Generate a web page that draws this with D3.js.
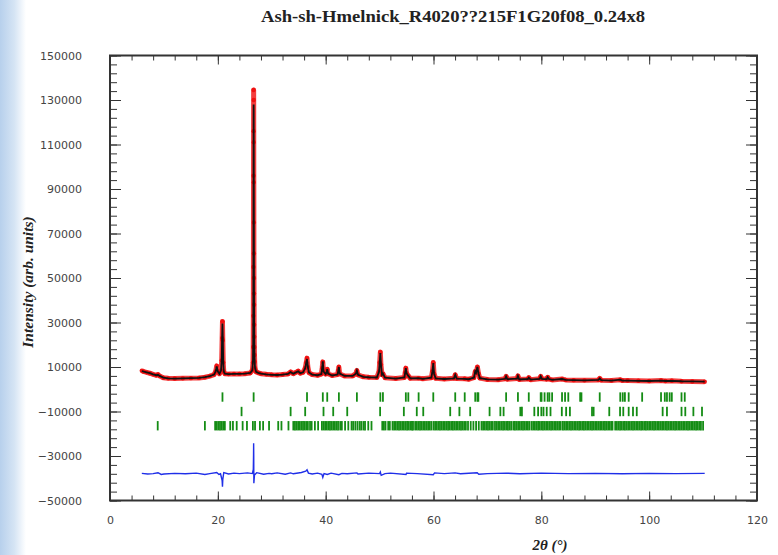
<!DOCTYPE html>
<html>
<head>
<meta charset="utf-8">
<title>Ash-sh-Hmelnick Rietveld plot</title>
<style type="text/css">
    html, body { margin: 0; padding: 0; background: #fff; }
    svg { display: block; }
    .tick text { font-family: "DejaVu Sans", sans-serif; font-size: 11px; fill: #444; }
    .tick line { stroke: #333; }
</style>
</head>
<body>
<div id="chart"></div>
<script src="https://cdnjs.cloudflare.com/ajax/libs/d3/7.8.5/d3.min.js"></script>
<script>

// [2theta, observed, calculated]
var profile = [
    [5.9, 8300, 8200], [6.3, 7900, 7900], [6.8, 7600, 7600], [7.4, 7200, 7200], [8.0, 6700, 6700],
    [8.6, 6300, 6300], [8.9, 6600, 6500], [9.2, 6000, 6000], [9.9, 5200, 5200], [10.8, 4900, 4900],
    [12.0, 4800, 4800], [13.5, 4900, 4900], [15.0, 5000, 5000], [16.5, 5100, 5100], [17.6, 5400, 5400],
    [18.5, 5900, 5900], [19.3, 6600, 6600], [19.6, 8000, 8000], [19.8, 10500, 10300], [20.0, 8000, 8000],
    [20.3, 7000, 7000], [20.6, 8500, 8500], [20.72, 13000, 13500], [20.8, 23000, 24000], [20.86, 30500, 29500],
    [20.92, 22000, 23500], [21.0, 12000, 12500], [21.1, 8000, 8000], [21.3, 7000, 7000], [22.0, 6800, 6800],
    [23.0, 6900, 6900], [24.0, 6900, 6900], [25.0, 7000, 7000], [26.0, 7300, 7300], [26.4, 8500, 8500],
    [26.52, 12000, 13000], [26.56, 19000, 21000], [26.58, 33000, 36000], [26.60, 55000, 60000], [26.62, 96000, 98000],
    [26.63, 116000, 118000], [26.64, 134500, 128000], [26.65, 130000, 125000], [26.66, 111000, 112000], [26.67, 93000, 95000],
    [26.68, 75000, 82000], [26.69, 61000, 66000], [26.70, 50000, 52000], [26.71, 43000, 44000], [26.72, 38000, 38000],
    [26.73, 29000, 31000], [26.75, 23600, 24000], [26.77, 19000, 19000], [26.80, 15400, 15000], [26.84, 12400, 12000],
    [26.9, 9500, 9500], [27.1, 7800, 7800], [27.5, 7400, 7400], [28.0, 7000, 7000], [29.0, 6700, 6700],
    [30.0, 6500, 6500], [31.0, 6400, 6400], [32.0, 6600, 6600], [33.0, 6900, 6900], [33.5, 7800, 7700],
    [34.0, 7000, 7000], [34.5, 7600, 7600], [34.9, 8200, 8100], [35.3, 7200, 7200], [35.8, 7600, 7600],
    [36.2, 9500, 9500], [36.4, 12000, 12000], [36.54, 14000, 13600], [36.7, 10000, 10000], [36.9, 7500, 7500],
    [37.5, 6600, 6600], [38.5, 6300, 6300], [39.2, 6800, 6800], [39.35, 9500, 9500], [39.47, 12300, 12600],
    [39.6, 8000, 8000], [40.0, 6800, 6800], [40.2, 7800, 7800], [40.29, 9000, 9000], [40.45, 7000, 7000],
    [41.2, 6200, 6200], [42.2, 6600, 6600], [42.35, 8500, 8500], [42.45, 10000, 10000], [42.6, 7000, 7000],
    [43.5, 6000, 6000], [45.0, 6000, 6000], [45.6, 7000, 7000], [45.79, 8400, 8400], [46.0, 6500, 6500],
    [47.0, 5600, 5600], [48.0, 5400, 5400], [49.5, 5300, 5300], [49.9, 8000, 8000], [50.02, 12000, 12000],
    [50.14, 16700, 16300], [50.25, 11000, 11200], [50.45, 6500, 6500], [50.62, 7000, 7000], [51.0, 5200, 5200],
    [53.0, 4800, 4800], [54.6, 5300, 5300], [54.75, 7500, 7500], [54.87, 9500, 9500], [55.0, 7200, 7200],
    [55.33, 6000, 6000], [55.7, 4900, 4900], [57.24, 5000, 5000], [58.0, 4700, 4700], [59.6, 5200, 5200],
    [59.8, 8000, 8000], [59.96, 12000, 11800], [60.1, 7000, 7000], [60.4, 4900, 4900], [62.0, 4600, 4600],
    [63.8, 4900, 4900], [64.03, 6500, 6500], [64.3, 4800, 4800], [65.79, 4700, 4700], [66.5, 4500, 4500],
    [67.5, 5200, 5200], [67.74, 8000, 8000], [67.9, 7400, 7400], [68.14, 10000, 10000], [68.35, 7000, 7000],
    [68.6, 5000, 5000], [70.0, 4400, 4400], [72.0, 4300, 4300], [73.3, 4700, 4700], [73.47, 5800, 5800],
    [73.7, 4500, 4500], [75.5, 4800, 4800], [75.66, 6000, 6000], [75.9, 4400, 4400], [77.5, 4600, 4600],
    [77.67, 5200, 5200], [78.0, 4300, 4300], [79.7, 4700, 4700], [79.88, 5800, 5800], [80.1, 4700, 4700],
    [81.0, 4500, 4500], [81.17, 5400, 5400], [81.4, 4600, 4600], [82.0, 4200, 4200], [83.84, 4600, 4600],
    [84.5, 4200, 4200], [86.0, 4100, 4100], [88.0, 4000, 4000], [90.6, 4200, 4200], [90.83, 4900, 4900],
    [91.1, 4100, 4100], [93.0, 3900, 3900], [94.64, 4300, 4300], [95.0, 3900, 3900], [96.0, 3900, 3900],
    [98.0, 3800, 3800], [100.0, 3700, 3700], [102.2, 3900, 3900], [103.0, 3700, 3700], [104.2, 3800, 3800],
    [106.0, 3600, 3600], [108.0, 3500, 3500], [110.3, 3400, 3400]
];

// [2theta, obs - calc, shifted]
var difference = [
    [5.9, -37800], [7, -38100], [8, -37900], [8.9, -37500], [9.5, -38300], [10, -38100], [12, -37800],
    [14, -38000], [16, -37700], [17.6, -38300], [18.5, -37900], [19.8, -37400], [20.2, -38300],
    [20.5, -38000], [20.8, -41000], [20.86, -43800], [20.92, -40500], [21.1, -37500], [22, -38100],
    [23, -37700], [24, -37900], [25.5, -37600], [26.4, -37900], [26.58, -36000], [26.62, -30000],
    [26.64, -24300], [26.66, -30000], [26.68, -42200], [26.72, -41000], [26.8, -38500], [27.2, -37500],
    [28.5, -38200], [29.5, -37800], [30, -38000], [31, -37600], [32.5, -38200], [33.5, -37600],
    [34, -38000], [35.5, -37400], [36.3, -36800], [36.54, -36200], [36.8, -37700], [37.5, -38100],
    [38.5, -37700], [39.3, -38200], [39.47, -39600], [39.7, -37900], [40.3, -38300], [41, -37700],
    [42.45, -38400], [43, -37800], [44, -38000], [45.8, -37600], [46, -38100], [48, -37700],
    [50.0, -37900], [50.14, -37200], [50.3, -38700], [51, -37900], [52, -37700], [54.9, -38300],
    [55, -37700], [57, -37900], [59.96, -38400], [60.2, -37600], [62, -37900], [64, -37600],
    [65, -38000], [68.1, -37500], [68.4, -38200], [70, -37900], [73.5, -37700], [76, -38000],
    [80, -37700], [85, -37900], [90, -37800], [95, -38000], [100, -37800], [105, -37900], [110.3, -37800]
];

// reflection positions for the three phases
var phase1 = [20.86, 26.64, 36.54, 39.47, 40.29, 42.45, 45.79, 50.14, 50.62, 54.87, 55.33, 57.24,
    59.96, 64.03, 65.79, 67.74, 68.14, 68.32, 73.47, 75.66, 77.67, 79.88, 80.04, 80.6, 81.17, 81.49,
    82.0, 83.84, 84.4, 85.0, 87.2, 87.44, 90.83, 94.64, 95.1, 95.5, 96.2, 98.7, 102.2, 102.9, 103.3,
    103.8, 104.2, 106.0, 106.6];

var phase2 = [24.4, 33.5, 36.2, 39.6, 41.4, 44.0, 50.1, 54.5, 56.9, 58.1, 63.1, 64.8, 66.8, 70.4,
    72.4, 73.0, 76.1, 76.4, 78.7, 79.4, 80.0, 80.4, 81.0, 81.7, 83.8, 84.6, 85.3, 89.4, 89.7, 92.6,
    94.6, 95.2, 96.2, 97.0, 97.7, 102.5, 103.3, 106.0, 106.7, 108.2, 109.8];

var phase3 = [8.85, 17.6, 19.5, 19.8, 20.1, 20.4, 20.7, 21.0, 21.3, 22.3, 22.8, 23.5, 24.6, 25.4,
    26.5, 26.9, 27.8, 28.4, 29.5, 31.2, 31.8, 33.1, 34.0, 34.3, 34.6, 34.9, 35.2, 35.5, 35.8, 36.1,
    36.4, 36.7, 37.1, 37.4, 38.0, 38.6, 39.3, 39.6, 39.9, 40.2, 40.5, 40.8, 41.1, 41.4, 41.7, 42.0,
    42.3, 42.7, 43.0, 43.6, 44.2, 44.8, 45.1, 45.5, 45.9, 46.3, 46.6, 47.0, 47.3, 47.9, 48.5,
    50.5, 50.8, 51.1, 51.6, 51.9, 52.4, 52.7, 53.0, 53.3, 53.6, 53.9, 54.2, 54.5, 54.8, 55.1, 55.4,
    55.7, 56.0, 56.2, 56.6, 56.9, 57.2, 57.5, 57.8, 58.1, 58.4, 58.7, 59.0, 59.3, 59.6, 60.0, 60.3,
    60.6, 60.9, 61.2, 61.5, 61.8, 62.1, 62.4, 62.7, 63.0, 63.3, 63.6, 63.9, 64.2, 64.5, 64.8, 65.1,
    65.4, 65.7, 66.0, 66.4, 66.9, 67.4, 67.9, 68.4, 68.9, 69.2, 69.5, 69.8, 70.1, 70.4, 70.7, 71.0,
    71.4, 71.7, 72.0, 72.3, 72.6, 72.9, 73.2, 73.5, 73.8, 74.1, 74.4, 74.8, 75.1, 75.4, 75.7, 76.0,
    76.3, 76.6, 76.9, 77.2, 77.5, 77.8, 78.2, 78.5, 78.8, 79.1, 79.4, 79.7, 80.0, 80.3, 80.6, 80.9,
    81.2, 81.5, 81.8, 82.1, 82.4, 82.7, 83.0, 83.3, 83.6, 84.0, 84.3, 84.6, 84.9, 85.2, 85.5, 85.8,
    86.1, 86.4, 86.7, 87.0, 87.3, 87.6, 87.9, 88.2, 88.5, 88.8, 89.1, 89.4, 89.7, 90.0, 90.3, 90.6,
    90.9, 91.2, 91.5, 91.8, 92.1, 92.4, 92.7, 93.0, 93.2, 93.7, 94.0, 94.3, 94.6, 94.9, 95.2, 95.5,
    95.8, 96.1, 96.4, 96.7, 97.0, 97.3, 97.6, 97.9, 98.2, 98.5, 98.8, 99.1, 99.4, 99.7, 100.0, 100.3,
    100.6, 100.9, 101.2, 101.5, 101.8, 102.1, 102.4, 102.7, 103.0, 103.3, 103.6, 103.9, 104.2, 104.5,
    104.8, 105.1, 105.4, 105.7, 106.0, 106.3, 106.6, 106.9, 107.2, 107.5, 107.8, 108.1, 108.4, 108.7,
    109.0, 109.3, 109.6, 110.0];

var xTicks = [0, 20, 40, 60, 80, 100, 120];
var yTicks = [-50000, -30000, -10000, 10000, 30000, 50000, 70000, 90000, 110000, 130000, 150000];

var title = "Ash-sh-Hmelnick_R4020??215F1G20f08_0.24x8";

(function() {

var W = 778, H = 555;
var plotLeft = 110, plotRight = 757, plotTop = 55.5, plotBottom = 500.5;

var svg = d3.select("#chart").append("svg")
    .attr("width", W)
    .attr("height", H);

// light blue slide background strip on the left
var grad = svg.append("defs").append("linearGradient")
    .attr("id", "bg")
    .attr("x1", "0").attr("x2", "1").attr("y1", "0").attr("y2", "0");
grad.append("stop").attr("offset", "0%").attr("stop-color", "#b7d0ec");
grad.append("stop").attr("offset", "55%").attr("stop-color", "#d5e4f4");
grad.append("stop").attr("offset", "100%").attr("stop-color", "#ffffff");
svg.append("rect").attr("x", 0).attr("y", 0).attr("width", 26).attr("height", H).attr("fill", "url(#bg)");

var x = d3.scaleLinear().domain([0, 120]).range([plotLeft, plotRight]);
var y = d3.scaleLinear().domain([-50000, 150000]).range([plotBottom, plotTop]);

// minor ticks every 4 deg / 4000 counts, on all four sides
var xMinor = d3.range(0, 121, 4);
var yMinor = d3.range(-50000, 150001, 4000);

function noDomain(g) { g.select(".domain").remove(); }

svg.append("g").attr("transform", "translate(0," + plotBottom + ")")
    .call(d3.axisBottom(x).tickValues(xMinor).tickSize(-5).tickFormat("")).call(noDomain);
svg.append("g").attr("transform", "translate(0," + plotTop + ")")
    .call(d3.axisTop(x).tickValues(xMinor).tickSize(-5).tickFormat("")).call(noDomain);
svg.append("g").attr("transform", "translate(" + plotLeft + ",0)")
    .call(d3.axisLeft(y).tickValues(yMinor).tickSize(-7).tickFormat("")).call(noDomain);
svg.append("g").attr("transform", "translate(" + plotRight + ",0)")
    .call(d3.axisRight(y).tickValues(yMinor).tickSize(-7).tickFormat("")).call(noDomain);

svg.append("g").attr("transform", "translate(0," + plotBottom + ")")
    .call(d3.axisBottom(x).tickValues(xTicks).tickSize(-9).tickPadding(16).tickFormat(d3.format("d")))
    .call(noDomain);
svg.append("g").attr("transform", "translate(0," + plotTop + ")")
    .call(d3.axisTop(x).tickValues(xTicks).tickSize(-9).tickFormat("")).call(noDomain);
svg.append("g").attr("transform", "translate(" + plotLeft + ",0)")
    .call(d3.axisLeft(y).tickValues(yTicks).tickSize(-11).tickPadding(28).tickFormat(d3.format("d")))
    .call(noDomain);
svg.append("g").attr("transform", "translate(" + plotRight + ",0)")
    .call(d3.axisRight(y).tickValues(yTicks).tickSize(-11).tickFormat("")).call(noDomain);

// Bragg reflection markers
var rows = [
    { data: phase1, centre: -3500 },
    { data: phase2, centre: -10000 },
    { data: phase3, centre: -16400 }
];
rows.forEach(function(r) {
    svg.append("g").selectAll("line")
        .data(r.data)
        .enter()
        .append("line")
        .attr("x1", function(d) { return x(d); })
        .attr("x2", function(d) { return x(d); })
        .attr("y1", y(r.centre + 2100))
        .attr("y2", y(r.centre - 2100))
        .style("stroke", "#148c14")
        .style("stroke-width", 1.8);
});

// observed points: dense enough to read as a band, plus the dots themselves
var obsLine = d3.line()
    .x(function(d) { return x(d[0]); })
    .y(function(d) { return y(d[1]); });
var calcLine = d3.line()
    .x(function(d) { return x(d[0]); })
    .y(function(d) { return y(d[2]); });
var diffLine = d3.line()
    .x(function(d) { return x(d[0]); })
    .y(function(d) { return y(d[1]); });

svg.append("path")
    .datum(profile)
    .attr("d", obsLine)
    .style("fill", "none")
    .style("stroke", "#f21c1c")
    .style("stroke-width", 5)
    .style("stroke-linejoin", "round")
    .style("opacity", 0.85);

svg.append("g").selectAll("circle")
    .data(profile)
    .enter()
    .append("circle")
    .attr("cx", function(d) { return x(d[0]); })
    .attr("cy", function(d) { return y(d[1]); })
    .attr("r", 2.2)
    .style("fill", "#ee1010");

svg.append("path")
    .datum(profile)
    .attr("d", calcLine)
    .style("fill", "none")
    .style("stroke", "#111")
    .style("stroke-width", 1.8);

svg.append("path")
    .datum(difference)
    .attr("d", diffLine)
    .style("fill", "none")
    .style("stroke", "#1f2fe8")
    .style("stroke-width", 1.4);

// frame
svg.append("rect")
    .attr("x", plotLeft).attr("y", plotTop)
    .attr("width", plotRight - plotLeft).attr("height", plotBottom - plotTop)
    .style("fill", "none")
    .style("stroke", "#333")
    .style("stroke-width", 2);

// title and axis labels
svg.append("text")
    .attr("x", 453).attr("y", 22)
    .attr("text-anchor", "middle")
    .attr("textLength", 384)
    .attr("lengthAdjust", "spacingAndGlyphs")
    .style("font-family", "'Liberation Serif', serif")
    .style("font-weight", "bold")
    .style("font-size", "16.5px")
    .style("fill", "#222")
    .text(title);

svg.append("text")
    .attr("transform", "translate(33,282) rotate(-90)")
    .attr("text-anchor", "middle")
    .style("font-family", "'Liberation Serif', serif")
    .style("font-weight", "bold")
    .style("font-style", "italic")
    .style("font-size", "15.5px")
    .style("fill", "#222")
    .text("Intensity (arb. units)");

svg.append("text")
    .attr("x", 550).attr("y", 550)
    .attr("text-anchor", "middle")
    .style("font-family", "'Liberation Serif', serif")
    .style("font-weight", "bold")
    .style("font-style", "italic")
    .style("font-size", "15px")
    .style("fill", "#222")
    .text("2\u03b8 (\u00b0)");

})();

</script>
</body>
</html>
